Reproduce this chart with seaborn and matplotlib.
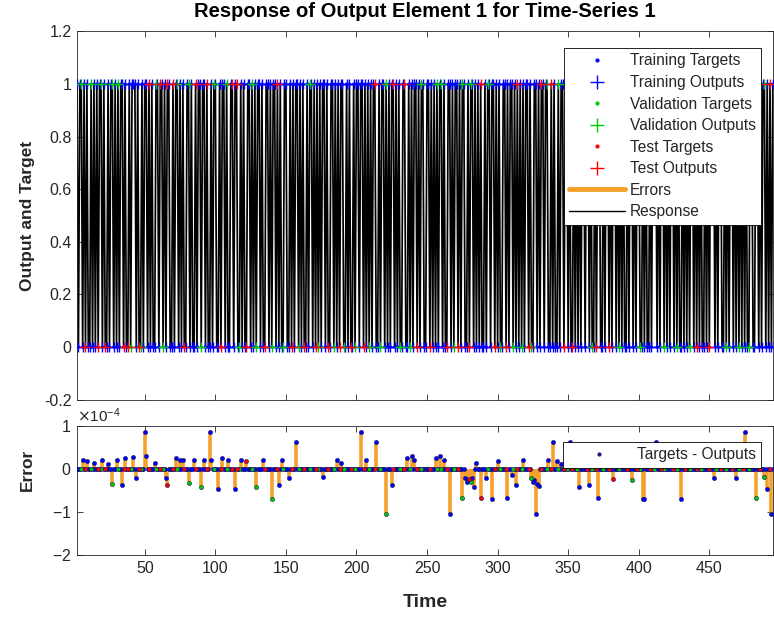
import numpy as np
import pandas as pd
import matplotlib
matplotlib.use("Agg")
import matplotlib.pyplot as plt
import seaborn as sns
from matplotlib.lines import Line2D
from matplotlib.ticker import ScalarFormatter

sns.set_theme(style="ticks")
plt.rcParams['font.family'] = ['Liberation Sans', 'DejaVu Sans']
plt.rcParams['axes.unicode_minus'] = False

# ---------------- data (read/estimated from the reference) ----------------
title = "Response of Output Element 1 for Time-Series 1"
t_start = 2
target_bits = (
    "1011010100" "1010101101" "0010110101" "0110100101" "1101001011"
    "0101001101" "1010110010" "1101010011" "0100101101" "1010010110"
    "0101101001" "1011001010" "0110101011" "0100110101" "1010100110"
    "0101011010" "1001011010" "1010110100" "1101010110" "0101001011"
    "0110101010" "1100101101" "0101101010" "0110010101" "1010110011"
    "0101010110" "1001101011" "0101100101" "1010101001" "0110110101"
    "0011010110" "1010101011" "0100110101" "1011001010" "0101101101"
    "0010101011" "0110100101" "1001011010" "1101010100" "1011010110"
    "0101001011" "1010110101" "0110101001" "0101011010" "1010010101"
    "1101011001" "0101101010" "1010100110" "0110101101" "0101"
)
val_t = [5, 12, 19, 27, 31, 40, 47, 58, 63, 73, 81, 90, 99, 108, 117, 126, 129,
         140, 148, 159, 167, 173, 184, 191, 199, 209, 217, 221, 231, 238, 246,
         257, 260, 269, 275, 281, 293, 302, 311, 317, 324, 335, 343, 349, 356,
         367, 375, 386, 395, 401, 411, 418, 427, 436, 444, 455, 462, 471, 478,
         483, 489]
test_t = [8, 17, 22, 35, 38, 46, 53, 61, 66, 70, 78, 86, 94, 104, 112, 115, 122,
          135, 144, 154, 163, 171, 180, 188, 196, 205, 213, 226, 234, 243, 252,
          264, 272, 280, 288, 298, 306, 314, 322, 331, 338, 347, 353, 363, 370,
          379, 382, 392, 399, 408, 416, 424, 433, 441, 450, 458, 466, 474, 486,
          493]
# errors (units of 1e-4) at the time steps where they are visible
err_t = [6, 9, 14, 20, 24, 27, 30, 34, 36, 42, 44, 50, 51, 57, 65, 66, 72, 75,
         77, 81, 85, 90, 92, 96, 97, 102, 105, 109, 114, 118, 122, 129, 134, 140,
         145, 147, 152, 157, 176, 186, 189, 203, 207, 214, 221, 225, 236, 239,
         241, 256, 259, 262, 266, 275, 277, 278, 279, 280, 281, 282, 283, 285,
         288, 292, 296, 300, 307, 310, 313, 318, 324, 325, 326, 327, 328, 329,
         336, 339, 342, 345, 351, 358, 365, 371, 382, 395, 403, 404, 412, 430,
         453, 469, 473, 475, 483, 489, 491, 494]
err_v = [0.2, 0.18, 0.15, 0.2, 0.12, -0.34, 0.2, -0.38, 0.25, 0.28, -0.2, 0.85,
         0.3, 0.15, -0.22, -0.38, 0.25, 0.22, 0.22, -0.33, 0.2, -0.42, 0.22,
         0.85, 0.2, -0.46, 0.25, 0.2, -0.46, 0.2, 0.18, -0.42, 0.2, -0.7, -0.37,
         0.2, -0.2, 0.62, -0.19, 0.22, 0.15, 0.85, 0.2, 0.62, -1.05, -0.38, 0.25,
         0.3, 0.2, 0.25, 0.3, 0.2, -1.05, -0.68, -0.2, -0.3, -0.25, -0.23, -0.3,
         -0.2, -0.42, 0.15, -0.68, -0.2, -0.7, 0.18, -0.68, -0.15, -0.38, 0.2,
         -0.2, -0.3, -0.25, -1.05, -0.35, -0.4, 0.2, 0.63, 0.18, 0.12, 0.62,
         -0.42, -0.38, -0.68, -0.23, -0.25, -0.7, -0.7, 0.62, -0.7, -0.2, -0.2,
         0.12, 0.85, -0.68, -0.18, -0.46, -1.05]

# ---------------- build table ----------------
targets = np.array([int(c) for c in target_bits], dtype=float)
time = np.arange(t_start, t_start + len(targets))
errors = np.zeros(len(time))
for t, v in zip(err_t, err_v):
    errors[t - t_start] = v * 1e-4
outputs = targets - errors
subset = np.array(["Training"] * len(time), dtype=object)
subset[np.array(val_t) - t_start] = "Validation"
subset[np.array(test_t) - t_start] = "Test"
df = pd.DataFrame({"time": time, "target": targets, "output": outputs,
                   "error": errors, "subset": subset})

colors = {"Training": (0, 0, 1), "Validation": (0, 0.8, 0), "Test": (1, 0, 0)}
orange = "#F5A02A"
txt = "#262626"

# ---------------- figure ----------------
fig = plt.figure(figsize=(7.74, 6.19), dpi=100)
ax1 = fig.add_axes([0.0995, 0.3544, 0.899, 0.5948])
ax2 = fig.add_axes([0.0995, 0.1034, 0.899, 0.2084])

# top: response
ax1.vlines(df["time"], df["target"], df["output"], color=orange, lw=2.5, zorder=1)
sns.lineplot(data=df, x="time", y="output", color="black", lw=1.25,
             estimator=None, sort=False, ax=ax1, zorder=2)
for name in ["Training", "Validation", "Test"]:
    d = df[df["subset"] == name]
    sns.scatterplot(data=d, x="time", y="target", color=colors[name], marker=".",
                    s=20, edgecolor="none", ax=ax1, zorder=3)
    sns.scatterplot(data=d, x="time", y="output", color=colors[name], marker="+",
                    s=45, linewidth=1.0, ax=ax1, zorder=4)

# bottom: errors
ax2.vlines(df["time"], 0, df["error"], color=orange, lw=2.6, zorder=1)
for name in ["Training", "Validation", "Test"]:
    d = df[df["subset"] == name]
    sns.scatterplot(data=d, x="time", y="error", color=colors[name], marker="o",
                    s=9, edgecolor=(0.1, 0.1, 0.35), linewidth=0.4, ax=ax2, zorder=3)

xticks = [50, 100, 150, 200, 250, 300, 350, 400, 450]
for ax in (ax1, ax2):
    ax.set_xlim(2, 495)
    ax.set_xticks(xticks)
    ax.tick_params(direction="in", top=True, right=True, length=4, width=0.6,
                   labelsize=11.5, colors=txt, pad=4)
    for s in ax.spines.values():
        s.set_color(txt)
        s.set_linewidth(0.6)
    ax.set_xlabel("")
    ax.set_ylabel("")

ax1.set_ylim(-0.2, 1.2)
ax1.set_yticks([-0.2, 0, 0.2, 0.4, 0.6, 0.8, 1, 1.2])
ax1.set_yticklabels(["-0.2", "0", "0.2", "0.4", "0.6", "0.8", "1", "1.2"])
ax1.set_xticklabels([])

ax2.set_ylim(-2e-4, 1e-4)
ax2.set_yticks([-2e-4, -1e-4, 0, 1e-4])
fmt = ScalarFormatter(useMathText=True)
fmt.set_powerlimits((-3, 3))
ax2.yaxis.set_major_formatter(fmt)
ax2.yaxis.get_offset_text().set_fontsize(11)
ax2.yaxis.get_offset_text().set_color(txt)

# legends
leg_handles = [
    Line2D([], [], ls="none", marker=".", color=colors["Training"], ms=4),
    Line2D([], [], ls="none", marker="+", color=colors["Training"], ms=10, mew=1),
    Line2D([], [], ls="none", marker=".", color=colors["Validation"], ms=4),
    Line2D([], [], ls="none", marker="+", color=colors["Validation"], ms=10, mew=1),
    Line2D([], [], ls="none", marker=".", color=colors["Test"], ms=4),
    Line2D([], [], ls="none", marker="+", color=colors["Test"], ms=10, mew=1),
    Line2D([], [], color=orange, lw=3.5),
    Line2D([], [], color="black", lw=1.0),
]
leg_labels = ["Training Targets", "Training Outputs", "Validation Targets",
              "Validation Outputs", "Test Targets", "Test Outputs", "Errors",
              "Response"]
leg1 = ax1.legend(leg_handles, leg_labels, loc="upper right",
                  bbox_to_anchor=(0.983, 0.955), fontsize=11.2, frameon=True,
                  fancybox=False, edgecolor="black", framealpha=1,
                  handlelength=3.6, labelspacing=0.42, borderpad=0.35,
                  handletextpad=0.3, borderaxespad=0.0)
leg1.get_frame().set_linewidth(0.6)
for t in leg1.get_texts():
    t.set_color(txt)

leg2 = ax2.legend([Line2D([], [], ls="none", marker=".", color=(0.1, 0.1, 0.5), ms=4)],
                  ["Targets - Outputs"], loc="upper right",
                  bbox_to_anchor=(0.983, 0.876), fontsize=11.2, frameon=True,
                  fancybox=False, edgecolor="black", framealpha=1,
                  handlelength=3.9, borderpad=0.35, handletextpad=0.5,
                  borderaxespad=0.0)
leg2.get_frame().set_linewidth(0.6)
for t in leg2.get_texts():
    t.set_color(txt)

# titles and labels
fig.text(0.549, 0.982, title, ha="center", va="center", fontsize=14.5,
         fontweight="bold", color="black")
fig.text(0.036, 0.652, "Output and Target", ha="center", va="center",
         rotation=90, fontsize=12.5, fontweight="bold", color=txt)
fig.text(0.036, 0.241, "Error", ha="center", va="center", rotation=90,
         fontsize=12.5, fontweight="bold", color=txt)
fig.text(0.549, 0.026, "Time", ha="center", va="center", fontsize=14,
         fontweight="bold", color=txt)

fig.savefig("out.png", dpi=100)
